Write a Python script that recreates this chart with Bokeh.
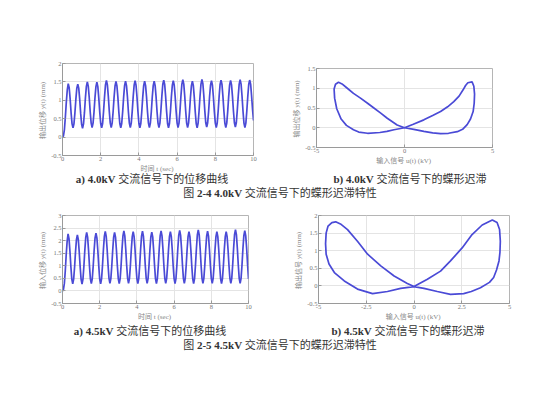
import numpy as np
from bokeh.plotting import figure
from bokeh.models import Range1d, FixedTicker, Div
from bokeh.layouts import column, row
from bokeh.embed import file_html
from bokeh.resources import INLINE

# ---------------- data ----------------
# displacement under 4.0 kV AC, sampled every 0.05 s from 0 to 10 s
disp_40kv = [
    0.00, 0.03, 0.20, 0.55, 0.95, 1.28, 1.45,
    1.34, 1.04, 0.66, 0.36, 0.25, 0.36, 0.66, 1.03, 1.33, 1.44,
    1.33, 1.03, 0.65, 0.35, 0.24, 0.36, 0.67, 1.07, 1.38, 1.50,
    1.38, 1.07, 0.69, 0.38, 0.26, 0.38, 0.68, 1.07, 1.37, 1.49,
    1.37, 1.06, 0.68, 0.37, 0.25, 0.37, 0.70, 1.09, 1.42, 1.54,
    1.42, 1.10, 0.70, 0.38, 0.26, 0.38, 0.69, 1.08, 1.39, 1.51,
    1.39, 1.08, 0.68, 0.37, 0.25, 0.37, 0.69, 1.08, 1.40, 1.52,
    1.40, 1.09, 0.69, 0.38, 0.26, 0.38, 0.70, 1.09, 1.41, 1.53,
    1.41, 1.09, 0.69, 0.37, 0.25, 0.37, 0.69, 1.08, 1.40, 1.52,
    1.40, 1.09, 0.69, 0.38, 0.26, 0.38, 0.69, 1.09, 1.40, 1.52,
    1.40, 1.09, 0.69, 0.38, 0.26, 0.38, 0.71, 1.10, 1.43, 1.55,
    1.43, 1.10, 0.70, 0.37, 0.25, 0.37, 0.69, 1.09, 1.41, 1.53,
    1.41, 1.09, 0.70, 0.38, 0.26, 0.38, 0.71, 1.11, 1.44, 1.56,
    1.44, 1.11, 0.71, 0.38, 0.26, 0.38, 0.69, 1.09, 1.40, 1.52,
    1.40, 1.08, 0.69, 0.37, 0.25, 0.38, 0.71, 1.11, 1.44, 1.57,
    1.45, 1.12, 0.72, 0.39, 0.27, 0.39, 0.70, 1.10, 1.41, 1.53,
    1.41, 1.09, 0.70, 0.38, 0.26, 0.38, 0.71, 1.10, 1.43, 1.55,
    1.43, 1.10, 0.71, 0.38, 0.26, 0.38, 0.70, 1.10, 1.42, 1.54,
    1.42, 1.10, 0.71, 0.39, 0.27, 0.39, 0.72, 1.11, 1.44, 1.56,
    1.44, 1.11, 0.71, 0.38, 0.26, 0.38, 0.71, 1.10, 1.43, 1.55,
    1.44, 1.12, 0.75, 0.45,
]
# displacement under 4.5 kV AC, sampled every 0.05 s from 0 to 10 s
disp_45kv = [
    0.00, 0.05, 0.30, 0.80, 1.45, 1.98, 2.27,
    2.08, 1.58, 0.97, 0.47, 0.28, 0.47, 0.95, 1.56, 2.04, 2.23,
    2.04, 1.55, 0.95, 0.46, 0.27, 0.47, 0.98, 1.62, 2.13, 2.33,
    2.14, 1.63, 0.99, 0.48, 0.29, 0.48, 0.98, 1.61, 2.11, 2.30,
    2.11, 1.60, 0.98, 0.47, 0.28, 0.48, 1.00, 1.65, 2.17, 2.37,
    2.17, 1.66, 1.01, 0.50, 0.30, 0.49, 1.00, 1.63, 2.14, 2.33,
    2.14, 1.63, 0.99, 0.48, 0.29, 0.49, 1.01, 1.67, 2.19, 2.39,
    2.19, 1.67, 1.02, 0.50, 0.30, 0.50, 1.01, 1.65, 2.16, 2.36,
    2.16, 1.65, 1.00, 0.49, 0.29, 0.49, 1.01, 1.66, 2.18, 2.38,
    2.18, 1.66, 1.02, 0.50, 0.30, 0.49, 1.00, 1.64, 2.15, 2.34,
    2.15, 1.63, 1.00, 0.48, 0.29, 0.49, 1.01, 1.67, 2.19, 2.39,
    2.19, 1.67, 1.02, 0.50, 0.30, 0.50, 1.01, 1.65, 2.16, 2.36,
    2.16, 1.65, 1.00, 0.49, 0.29, 0.49, 1.02, 1.68, 2.21, 2.41,
    2.21, 1.68, 1.03, 0.50, 0.30, 0.50, 1.01, 1.65, 2.16, 2.36,
    2.16, 1.65, 1.00, 0.49, 0.29, 0.49, 1.03, 1.69, 2.23, 2.43,
    2.23, 1.70, 1.03, 0.50, 0.30, 0.50, 1.02, 1.66, 2.18, 2.38,
    2.18, 1.66, 1.02, 0.50, 0.30, 0.50, 1.01, 1.65, 2.16, 2.36,
    2.16, 1.65, 1.00, 0.49, 0.29, 0.49, 1.00, 1.65, 2.16, 2.36,
    2.16, 1.65, 1.01, 0.50, 0.30, 0.50, 1.04, 1.70, 2.24, 2.44,
    2.24, 1.70, 1.04, 0.50, 0.30, 0.50, 1.02, 1.68, 2.20, 2.40,
    2.20, 1.70, 1.05, 0.48,
]
sample_step = 0.05

# butterfly hysteresis loop, 4.0 kV: input u(t) kV vs output y(t) mm
loop40_u = [0.00, 0.50, 1.10, 1.60, 2.05, 2.45, 2.80, 3.10, 3.33, 3.47, 3.60, 3.84,
            3.94, 3.98, 3.96, 3.90, 3.75, 3.56, 3.30, 3.00, 2.50, 2.05, 1.60, 1.10,
            0.53, 0.00, -0.60, -1.00, -1.40, -2.10, -2.60, -2.90, -3.30, -3.60, -3.85,
            -3.97, -4.00, -3.92, -3.75, -3.55, -3.25, -2.90, -2.50, -2.10, -1.74,
            -1.35, -0.98, -0.42, 0.00]
loop40_y = [0.00, 0.09, 0.20, 0.31, 0.41, 0.53, 0.66, 0.80, 0.96, 1.07, 1.14, 1.16,
            1.05, 0.85, 0.62, 0.41, 0.22, 0.08, -0.04, -0.10, -0.14, -0.15, -0.13, -0.09,
            -0.04, 0.00, -0.05, -0.09, -0.12, -0.14, -0.11, -0.05, 0.06, 0.22, 0.48,
            0.75, 0.98, 1.10, 1.15, 1.11, 1.00, 0.87, 0.75, 0.62, 0.50,
            0.37, 0.24, 0.07, 0.00]

# butterfly hysteresis loop, 4.5 kV
loop45_u = [0.00, 0.70, 1.39, 1.91, 2.52, 3.04, 3.57, 4.10, 4.35, 4.48, 4.52, 4.50,
            4.45, 4.32, 4.17, 3.95, 3.48, 3.00, 2.60, 1.91, 1.22, 0.52, 0.00,
            -0.70, -1.39, -2.17, -2.96, -3.65, -4.17, -4.45, -4.60, -4.63, -4.60,
            -4.50, -4.30, -4.10, -3.85, -3.48, -2.96, -2.43, -1.74, -1.04, -0.35, 0.00]
loop45_y = [-0.02, 0.19, 0.42, 0.71, 1.08, 1.46, 1.73, 1.87, 1.80, 1.60, 1.27, 0.95,
            0.71, 0.45, 0.24, 0.10, -0.05, -0.16, -0.22, -0.24, -0.16, -0.07, -0.02,
            -0.07, -0.16, -0.22, -0.09, 0.14, 0.38, 0.62, 0.90, 1.20, 1.50,
            1.70, 1.80, 1.82, 1.76, 1.60, 1.27, 0.90, 0.57, 0.28, 0.07, -0.02]

# ticks
time_ticks = [0, 2, 4, 6, 8, 10]
time_tick_labels = ["0", "2", "4", "6", "8", "10"]
y40_ticks = [-0.5, 0, 0.5, 1, 1.5, 2]
y40_tick_labels = ["-0.5", "0", "0.5", "1", "1.5", "2"]
y45_ticks = [-0.5, 0, 0.5, 1, 1.5, 2, 2.5, 3]
y45_tick_labels = ["-0.5", "0", "0.5", "1", "1.5", "2", "2.5", "3"]
u40_ticks = [-5, 0, 5]
u40_tick_labels = ["-5", "0", "5"]
loop40_y_ticks = [-0.5, 0, 0.5, 1, 1.5]
loop40_y_labels = ["-0.5", "0", "0.5", "1", "1.5"]
u45_ticks = [-5, -2.5, 0, 2.5, 5]
u45_tick_labels = ["-5", "-2.5", "0", "2.5", "5"]
loop45_y_ticks = [-0.5, 0, 0.5, 1, 1.5, 2]
loop45_y_labels = ["-0.5", "0", "0.5", "1", "1.5", "2"]

# ---------------- style ----------------
BLUE = "#4a4ad6"
SERIF = "'Liberation Serif', 'Noto Sans CJK SC', serif"
AX = "#9a9a9a"


def make_fig(w, h, lb, rb, tb, bb, xr, yr, xt, xtl, yt, ytl, xlabel, ylabel, margin=0):
    p = figure(width=w, height=h, output_backend="svg", toolbar_location=None,
               x_range=Range1d(*xr), y_range=Range1d(*yr),
               min_border_left=lb, min_border_right=rb,
               min_border_top=tb, min_border_bottom=bb, margin=margin)
    p.xaxis.ticker = FixedTicker(ticks=xt)
    p.xaxis.major_label_overrides = dict(zip(xt, xtl))
    p.yaxis.ticker = FixedTicker(ticks=yt)
    p.yaxis.major_label_overrides = dict(zip(yt, ytl))
    for ax in (p.xaxis[0], p.yaxis[0]):
        ax.axis_line_color = AX
        ax.major_tick_line_color = AX
        ax.major_tick_in = 3
        ax.major_tick_out = 0
        ax.minor_tick_line_color = None
        ax.major_label_text_font = SERIF
        ax.major_label_text_font_size = "6.5px"
        ax.major_label_text_color = "#777777"
        ax.major_label_standoff = 1
        ax.axis_label_text_font = SERIF
        ax.axis_label_text_font_size = "7px"
        ax.axis_label_text_font_style = "normal"
        ax.axis_label_text_color = "#888888"
        ax.axis_label_standoff = 1
    p.xaxis.axis_label = xlabel
    p.yaxis.axis_label = ylabel
    p.grid.grid_line_color = "#e4e4e4"
    p.outline_line_color = "#b5b5b5"
    p.background_fill_color = "white"
    p.border_fill_color = "white"
    return p


t40 = np.round(np.arange(len(disp_40kv)) * sample_step, 2)
t45 = np.round(np.arange(len(disp_45kv)) * sample_step, 2)

pa1 = make_fig(262, 169, 54, 17, 55, 22, (0, 10), (-0.5, 2),
               time_ticks, time_tick_labels, y40_ticks, y40_tick_labels,
               "时间 t  (sec)", "输出位移 y(t)  (mm)")
pa1.line(t40, disp_40kv, line_color=BLUE, line_width=1.7)

pb1 = make_fig(272, 156, 46, 50, 55, 22, (-5, 5), (-0.5, 1.5),
               u40_ticks, u40_tick_labels, loop40_y_ticks, loop40_y_labels,
               "输入信号 u(t)  (kV)", "输出位移 y(t)  (mm)", margin=(5, 0, 0, 0))
pb1.line(loop40_u, loop40_y, line_color=BLUE, line_width=1.7)

pa2 = make_fig(262, 126, 54, 22, 16, 22, (0, 10), (-0.5, 3),
               time_ticks, time_tick_labels, y45_ticks, y45_tick_labels,
               "时间 t  (sec)", "输入位移 y(t)  (mm)")
pa2.line(t45, disp_45kv, line_color=BLUE, line_width=1.7)

pb2 = make_fig(272, 126, 48, 33, 16, 22, (-5, 5), (-0.5, 2),
               u45_ticks, u45_tick_labels, loop45_y_ticks, loop45_y_labels,
               "输入信号 u(t)  (kV)", "输出信号 y(t)  (mm)")
pb2.line(loop45_u, loop45_y, line_color=BLUE, line_width=1.7)


def caption(html, w, shift, h=14):
    style = ("width:%dpx;text-align:center;box-sizing:border-box;padding-left:%dpx;"
             "font-size:11px;line-height:%dpx;color:#333;white-space:nowrap;"
             "font-family:'Liberation Serif','Noto Sans CJK SC',serif;") % (w, shift, h)
    return Div(text='<div style="%s">%s</div>' % (style, html), width=w, height=h, margin=0)


cap_a1 = caption("<b>a) 4.0kV</b> 交流信号下的位移曲线", 262, 26)
cap_b1 = caption("<b>b) 4.0kV</b> 交流信号下的蝶形迟滞", 272, 8)
cap_f1 = caption("图 <b>2-4 4.0kV</b> 交流信号下的蝶形迟滞特性", 534, 10)
cap_a2 = caption("<b>a) 4.5kV</b> 交流信号下的位移曲线", 262, 22)
cap_b2 = caption("<b>b) 4.5kV</b> 交流信号下的蝶形迟滞", 272, 4)
cap_f2 = caption("图 <b>2-5 4.5kV</b> 交流信号下的蝶形迟滞特性", 534, 10)

caps1 = row(cap_a1, cap_b1, margin=(-6, 0, 0, 0))
caps2 = row(cap_a2, cap_b2, margin=(-2, 0, 0, 0))

layout = column(row(pa1, pb1), caps1, cap_f1,
                row(pa2, pb2), caps2, cap_f2,
                margin=(8, 0, 0, 8))

open("out.html", "w").write(file_html(layout, INLINE))
